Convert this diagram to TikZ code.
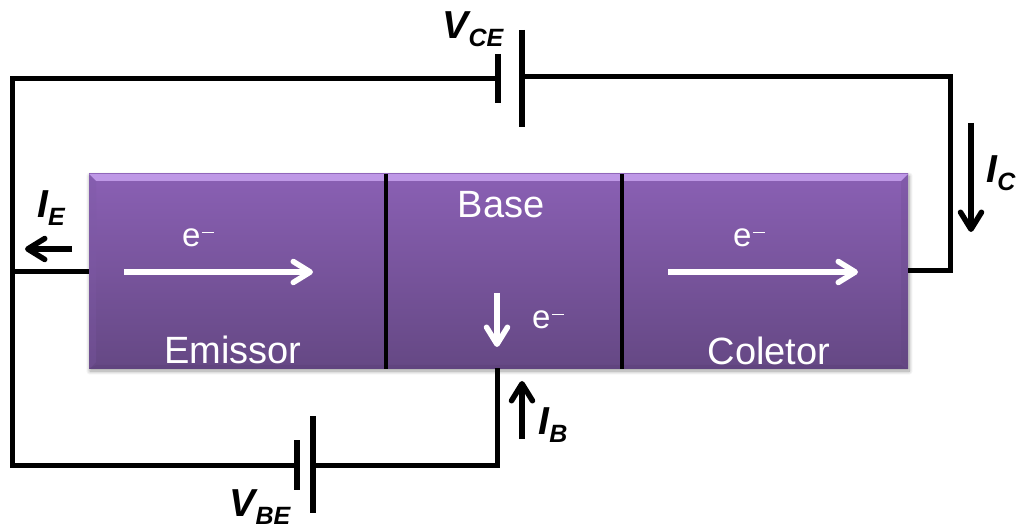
\documentclass[tikz,border=0pt]{standalone}
\usepackage{fontspec}
\setmainfont{Liberation Sans}
\usetikzlibrary{arrows.meta,shadows.blur}
\definecolor{pTop}{HTML}{8A60B4}
\definecolor{pBot}{HTML}{654884}
\definecolor{pHi}{HTML}{BE98E6}
\definecolor{pLeft}{HTML}{7E5AA6}
\definecolor{pDark}{HTML}{5A3F78}
\tikzset{
  wire/.style={line width=5pt,black,line cap=butt},
  plate/.style={line width=6pt,black},
  divider/.style={line width=4pt,black},
  warrow/.style={line width=5.5pt,white,-{Straight Barb[length=17pt,width=21pt,line width=5.5pt,round]}},
  karrow/.style={line width=5.5pt,black,-{Straight Barb[length=17pt,width=21pt,line width=5.5pt,round]}},
  lbl/.style={white,font=\fontsize{38}{38}\selectfont,inner sep=0pt},
  ilbl/.style={black,font=\fontsize{39}{39}\selectfont\bfseries\itshape,inner sep=0pt},
}
\newcommand{\elec}{e\raisebox{0.42em}{\fontsize{22}{22}\selectfont\,\kern-0.1em\rule{0.55em}{0.06em}}}
\newcommand{\subs}[1]{\raisebox{-0.2em}{\fontsize{25}{25}\selectfont #1}}
\begin{document}
\begin{tikzpicture}[x=1pt,y=-1pt]
\useasboundingbox (0,0) rectangle (1018,529);
% transistor body
\fill[black!35,blur shadow={shadow blur steps=8,shadow xshift=1pt,shadow yshift=-2pt,shadow blur radius=4pt}] (89,174) rectangle (908,369);
\shade[top color=pTop,bottom color=pBot] (89,174) rectangle (908,369);
\fill[pHi] (89,174) -- (908,174) -- (901,181) -- (96,181) -- cycle;
\fill[pLeft,opacity=.3] (89,174) -- (96,181) -- (96,362) -- (89,369) -- cycle;
\fill[pDark,opacity=.15] (908,174) -- (901,181) -- (901,362) -- (908,369) -- cycle;
\fill[pDark,opacity=.4] (89,369) -- (96,365) -- (901,365) -- (908,369) -- cycle;
% named points
\coordinate (tl) at (12,78.5);
\coordinate (tr) at (950,76.5);
\coordinate (br) at (950,270.5);
\coordinate (cl) at (908,270.5);
\coordinate (em) at (89,271.5);
\coordinate (eml) at (12,271.5);
\coordinate (bl) at (12,465);
\coordinate (bb) at (497,465);
\coordinate (bt) at (497,368);
\coordinate (ce1) at (498,78.5);
\coordinate (ce1t) at (498,54);
\coordinate (ce1b) at (498,103);
\coordinate (ce2) at (522,76.5);
\coordinate (ce2t) at (522,30);
\coordinate (ce2b) at (522,127);
\coordinate (be1) at (297,465);
\coordinate (be1t) at (297,440);
\coordinate (be1b) at (297,490);
\coordinate (be2) at (313,465);
\coordinate (be2t) at (313,416);
\coordinate (be2b) at (313,513);
\coordinate (d1t) at (386,174);
\coordinate (d1b) at (386,369);
\coordinate (d2t) at (622,174);
\coordinate (d2b) at (622,369);
% dividers
\draw[divider] (d1t) -- (d1b);
\draw[divider] (d2t) -- (d2b);
% wires
\draw[wire,line join=miter] (ce1) -- (tl) -- (bl) -- (be1);
\draw[wire,line join=miter] (ce2) -- (tr) -- (br) -- (cl);
\draw[wire] (em) -- (eml);
\draw[wire,line join=miter] (be2) -- (bb) -- (bt);
% batteries
\draw[plate] (ce1t) -- (ce1b);
\draw[plate] (ce2t) -- (ce2b);
\draw[plate] (be1t) -- (be1b);
\draw[plate] (be2t) -- (be2b);
% labels
\node[lbl] (nE) at (233,350) {Emissor};
\node[lbl] (nB) at (501,205) {Base};
\node[lbl] (nC) at (769,351) {Coletor};
\node[lbl,font=\fontsize{33}{33}\selectfont] (e1) at (198,238) {\elec};
\node[lbl,font=\fontsize{33}{33}\selectfont] (e2) at (749,238) {\elec};
\node[lbl,font=\fontsize{33}{33}\selectfont] (e3) at (548,320) {\elec};
% electron arrows
\coordinate (a1s) at (124,272); \coordinate (a1e) at (313,272);
\coordinate (a2s) at (668,272); \coordinate (a2e) at (858,272);
\coordinate (a3s) at (497,293); \coordinate (a3e) at (497,347);
\draw[warrow] (a1s) -- (a1e);
\draw[warrow] (a2s) -- (a2e);
\draw[warrow] (a3s) -- (a3e);
% current arrows
\coordinate (ies) at (72,249); \coordinate (iee) at (25,249);
\coordinate (ics) at (971,123); \coordinate (ice) at (971,232);
\coordinate (ibs) at (522,439); \coordinate (ibe) at (522,381);
\draw[karrow] (ies) -- (iee);
\draw[karrow] (ics) -- (ice);
\draw[karrow] (ibs) -- (ibe);
% current and voltage labels
\node[ilbl] (vce) at (473,29) {V\subs{CE}};
\node[ilbl] (vbe) at (260,507) {V\subs{BE}};
\node[ilbl] (ie) at (51,208) {I\subs{E}};
\node[ilbl] (ic) at (1001,173) {I\subs{C}};
\node[ilbl] (ib) at (553,425) {I\subs{B}};
\end{tikzpicture}
\end{document}
